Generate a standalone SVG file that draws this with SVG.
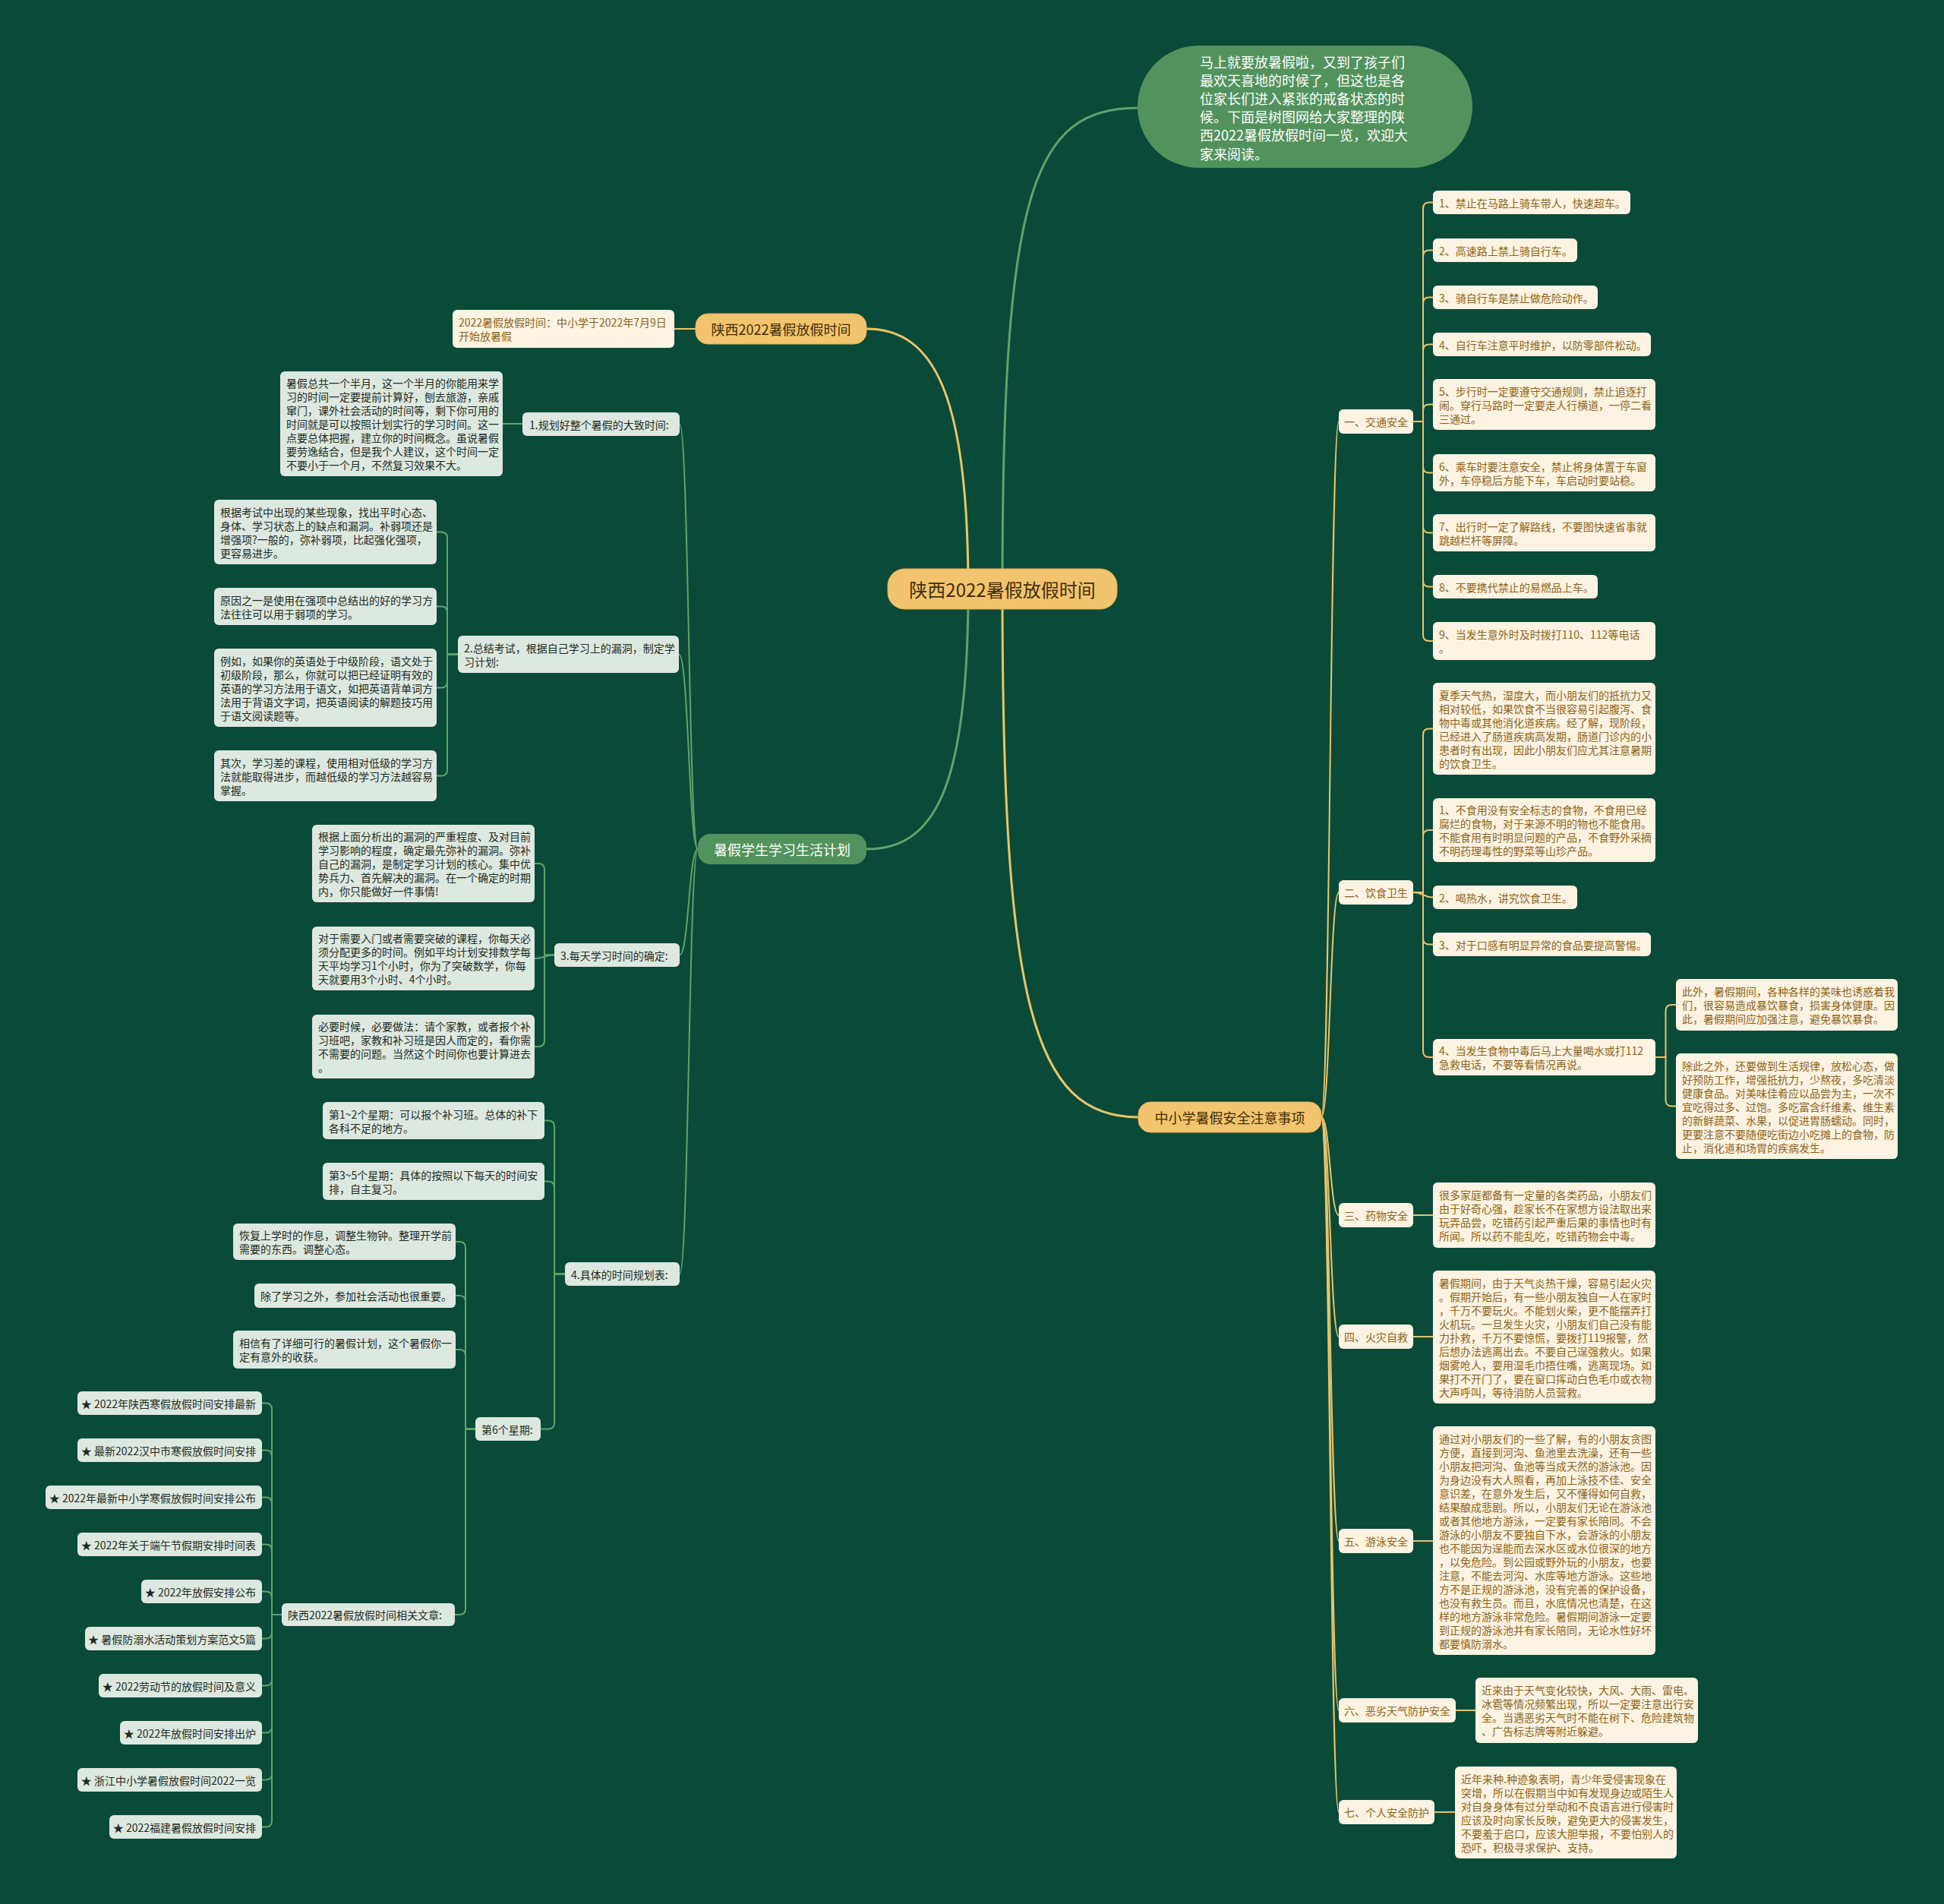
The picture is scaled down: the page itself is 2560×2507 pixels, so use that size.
<svg xmlns="http://www.w3.org/2000/svg" width="2560" height="2507" viewBox="0 0 2560 2507">
<style>
text{font-family:"Noto Sans CJK SC","Liberation Sans",sans-serif;dominant-baseline:central}
.lb{fill:#dde8e0}.rb{fill:#fdf3e2}
.lt{fill:#1d2b22;font-size:14px}.rt{fill:#8b6318;font-size:14px}
.ob{fill:#f3c46e;stroke:#e6ad52;stroke-width:1}.gb{fill:#52925c}
.ot{fill:#3f2d0c;font-size:18px;text-anchor:middle}.gt{fill:#ffffff;font-size:18px;text-anchor:middle}
.cg{fill:none;stroke:#5ea56b;stroke-width:2}.cy{fill:none;stroke:#e8c56a;stroke-width:2}
.cg3{fill:none;stroke:#5ea56b;stroke-width:3}.cy3{fill:none;stroke:#e8c56a;stroke-width:3}
</style>
<rect width="2560" height="2507" fill="#0a4a39"/>
<g id="connectors">
<path class="cy3" d="M 1275 776 C 1275 520, 1230 433, 1141 433"/>
<path class="cg3" d="M 1275 776 C 1275 1040, 1230 1118, 1141 1118"/>
<path class="cg3" d="M 1320 776 C 1320 250, 1360 142, 1499 142"/>
<path class="cy3" d="M 1320 776 C 1320 1320, 1360 1471, 1499 1471"/>
<path class="cy" d="M 888 433 H 916"/>
<path class="cg" d="M 662 558 H 688"/>
<path class="cg" d="M 919 1118 C 907 1118, 907 558.5, 895 558.5"/>
<path class="cg" d="M 919 1118 C 907 1118, 907 861.5, 894 861.5"/>
<path class="cg" d="M 919 1118 C 907 1118, 907 1257.5, 895 1257.5"/>
<path class="cg" d="M 919 1118 C 907 1118, 907 1677.5, 895 1677.5"/>
<path class="cg" d="M 575 700.5 H 581 Q 589 700.5 589 708.5 V 861.5 H 603"/>
<path class="cg" d="M 575 798.5 H 581 Q 589 798.5 589 806.5 V 861.5 H 603"/>
<path class="cg" d="M 575 905.5 H 581 Q 589 905.5 589 897.5 V 861.5 H 603"/>
<path class="cg" d="M 575 1021.5 H 581 Q 589 1021.5 589 1013.5 V 861.5 H 603"/>
<path class="cg" d="M 704 1137 H 709 Q 717 1137 717 1145 V 1257.5 H 730"/>
<path class="cg" d="M 704 1262 C 717 1262, 717 1257.5, 730 1257.5"/>
<path class="cg" d="M 704 1378 H 709 Q 717 1378 717 1370 V 1257.5 H 730"/>
<path class="cg" d="M 717 1475.5 H 722 Q 730 1475.5 730 1483.5 V 1677.5 H 744"/>
<path class="cg" d="M 717 1555.5 H 722 Q 730 1555.5 730 1563.5 V 1677.5 H 744"/>
<path class="cg" d="M 712 1881.5 H 722 Q 730 1881.5 730 1873.5 V 1677.5 H 744"/>
<path class="cg" d="M 600 1635 H 605 Q 613 1635 613 1643 V 1881.5 H 626"/>
<path class="cg" d="M 600 1706 H 605 Q 613 1706 613 1714 V 1881.5 H 626"/>
<path class="cg" d="M 600 1777 H 605 Q 613 1777 613 1785 V 1881.5 H 626"/>
<path class="cg" d="M 599 2126 H 605 Q 613 2126 613 2118 V 1881.5 H 626"/>
<path class="cg" d="M 345 1847.5 H 350 Q 358 1847.5 358 1855.5 V 2126 H 371"/>
<path class="cg" d="M 345 1909.5 H 350 Q 358 1909.5 358 1917.5 V 2126 H 371"/>
<path class="cg" d="M 345 1971.5 H 350 Q 358 1971.5 358 1979.5 V 2126 H 371"/>
<path class="cg" d="M 345 2033.5 H 350 Q 358 2033.5 358 2041.5 V 2126 H 371"/>
<path class="cg" d="M 345 2095.5 H 350 Q 358 2095.5 358 2103.5 V 2126 H 371"/>
<path class="cg" d="M 345 2157.5 H 350 Q 358 2157.5 358 2149.5 V 2126 H 371"/>
<path class="cg" d="M 345 2219.5 H 350 Q 358 2219.5 358 2211.5 V 2126 H 371"/>
<path class="cg" d="M 345 2281.5 H 350 Q 358 2281.5 358 2273.5 V 2126 H 371"/>
<path class="cg" d="M 345 2343.5 H 350 Q 358 2343.5 358 2335.5 V 2126 H 371"/>
<path class="cg" d="M 345 2405.5 H 350 Q 358 2405.5 358 2397.5 V 2126 H 371"/>
<path class="cy" d="M 1740 1471 C 1751.5 1471, 1751.5 555, 1763 555"/>
<path class="cy" d="M 1740 1471 C 1751.5 1471, 1751.5 1175, 1763 1175"/>
<path class="cy" d="M 1740 1471 C 1751.5 1471, 1751.5 1600, 1763 1600"/>
<path class="cy" d="M 1740 1471 C 1751.5 1471, 1751.5 1760, 1763 1760"/>
<path class="cy" d="M 1740 1471 C 1751.5 1471, 1751.5 2029, 1763 2029"/>
<path class="cy" d="M 1740 1471 C 1751.5 1471, 1751.5 2252, 1763 2252"/>
<path class="cy" d="M 1740 1471 C 1751.5 1471, 1751.5 2386, 1763 2386"/>
<path class="cy" d="M 1887 266.5 H 1882 Q 1874 266.5 1874 274.5 V 555 H 1861"/>
<path class="cy" d="M 1887 329.5 H 1882 Q 1874 329.5 1874 337.5 V 555 H 1861"/>
<path class="cy" d="M 1887 391.5 H 1882 Q 1874 391.5 1874 399.5 V 555 H 1861"/>
<path class="cy" d="M 1887 453.5 H 1882 Q 1874 453.5 1874 461.5 V 555 H 1861"/>
<path class="cy" d="M 1887 532.5 H 1882 Q 1874 532.5 1874 540.5 V 555 H 1861"/>
<path class="cy" d="M 1887 622.5 H 1882 Q 1874 622.5 1874 614.5 V 555 H 1861"/>
<path class="cy" d="M 1887 701.5 H 1882 Q 1874 701.5 1874 693.5 V 555 H 1861"/>
<path class="cy" d="M 1887 772.5 H 1882 Q 1874 772.5 1874 764.5 V 555 H 1861"/>
<path class="cy" d="M 1887 844 H 1882 Q 1874 844 1874 836 V 555 H 1861"/>
<path class="cy" d="M 1887 959.5 H 1882 Q 1874 959.5 1874 967.5 V 1175 H 1861"/>
<path class="cy" d="M 1887 1093 H 1882 Q 1874 1093 1874 1101 V 1175 H 1861"/>
<path class="cy" d="M 1887 1181.5 C 1874 1181.5, 1874 1175, 1861 1175"/>
<path class="cy" d="M 1887 1243.5 H 1882 Q 1874 1243.5 1874 1235.5 V 1175 H 1861"/>
<path class="cy" d="M 1887 1392 H 1882 Q 1874 1392 1874 1384 V 1175 H 1861"/>
<path class="cy" d="M 2207 1323 H 2201.5 Q 2193.5 1323 2193.5 1331 V 1392 H 2180"/>
<path class="cy" d="M 2207 1456.5 H 2201.5 Q 2193.5 1456.5 2193.5 1448.5 V 1392 H 2180"/>
<path class="cy" d="M 1861 1600 H 1887"/>
<path class="cy" d="M 1861 1760 H 1887"/>
<path class="cy" d="M 1861 2029 H 1887"/>
<path class="cy" d="M 1917 2252 H 1943"/>
<path class="cy" d="M 1889 2386 H 1916"/>
</g>
<g id="root"><rect class="ob" x="1169" y="749" width="302" height="53" rx="22" stroke-width="2"/><text class="ot" x="1320" y="775.5" style="font-size:24px">陕西2022暑假放假时间</text></g>
<g id="intro"><rect x="1498" y="60" width="441" height="161" rx="80.5" fill="#52925c"/><text fill="#ffffff" style="font-size:18px"><tspan x="1580" y="80.5">马上就要放暑假啦，又到了孩子们</tspan><tspan x="1580" y="104.7">最欢天喜地的时候了，但这也是各</tspan><tspan x="1580" y="128.9">位家长们进入紧张的戒备状态的时</tspan><tspan x="1580" y="153.1">候。下面是树图网给大家整理的陕</tspan><tspan x="1580" y="177.3">西2022暑假放假时间一览，欢迎大</tspan><tspan x="1580" y="201.5">家来阅读。</tspan></text></g>
<g id="b-time"><rect class="ob" x="916" y="413" width="225" height="40" rx="16"/><text class="ot" x="1028.5" y="433">陕西2022暑假放假时间</text></g>
<g id="b-plan"><rect class="gb" x="919" y="1098" width="222" height="40" rx="16"/><text class="gt" x="1030" y="1118">暑假学生学习生活计划</text></g>
<g id="b-safe"><rect class="ob" x="1499" y="1451" width="241" height="40" rx="16"/><text class="ot" x="1619.5" y="1471">中小学暑假安全注意事项</text></g>
<g id="n-2022"><rect class="rb" x="596" y="408" width="292" height="50" rx="6"/><text class="rt"><tspan x="604" y="424">2022暑假放假时间：中小学于2022年7月9日</tspan><tspan x="604" y="442">开始放暑假</tspan></text></g>
<g id="n-p1"><rect class="lb" x="688" y="543" width="207" height="31" rx="6"/><text class="lt" x="697" y="558.5">1.规划好整个暑假的大致时间:</text></g>
<g id="n-p1a"><rect class="lb" x="369" y="489" width="293" height="138" rx="6"/><text class="lt"><tspan x="377" y="504">暑假总共一个半月，这一个半月的你能用来学</tspan><tspan x="377" y="522">习的时间一定要提前计算好，刨去旅游，亲戚</tspan><tspan x="377" y="540">窜门，课外社会活动的时间等，剩下你可用的</tspan><tspan x="377" y="558">时间就是可以按照计划实行的学习时间。这一</tspan><tspan x="377" y="576">点要总体把握，建立你的时间概念。虽说暑假</tspan><tspan x="377" y="594">要劳逸结合，但是我个人建议，这个时间一定</tspan><tspan x="377" y="612">不要小于一个月，不然复习效果不大。</tspan></text></g>
<g id="n-p2"><rect class="lb" x="603" y="837" width="291" height="49" rx="6"/><text class="lt"><tspan x="611" y="852.5">2.总结考试，根据自己学习上的漏洞，制定学</tspan><tspan x="611" y="870.5">习计划:</tspan></text></g>
<g id="n-p2a"><rect class="lb" x="282" y="658" width="293" height="85" rx="6"/><text class="lt"><tspan x="290" y="673.5">根据考试中出现的某些现象，找出平时心态、</tspan><tspan x="290" y="691.5">身体、学习状态上的缺点和漏洞。补弱项还是</tspan><tspan x="290" y="709.5">增强项?一般的，弥补弱项，比起强化强项，</tspan><tspan x="290" y="727.5">更容易进步。</tspan></text></g>
<g id="n-p2b"><rect class="lb" x="282" y="774" width="293" height="49" rx="6"/><text class="lt"><tspan x="290" y="789.5">原因之一是使用在强项中总结出的好的学习方</tspan><tspan x="290" y="807.5">法往往可以用于弱项的学习。</tspan></text></g>
<g id="n-p2c"><rect class="lb" x="282" y="854" width="293" height="103" rx="6"/><text class="lt"><tspan x="290" y="869.5">例如，如果你的英语处于中级阶段，语文处于</tspan><tspan x="290" y="887.5">初级阶段，那么，你就可以把已经证明有效的</tspan><tspan x="290" y="905.5">英语的学习方法用于语文，如把英语背单词方</tspan><tspan x="290" y="923.5">法用于背语文字词，把英语阅读的解题技巧用</tspan><tspan x="290" y="941.5">于语文阅读题等。</tspan></text></g>
<g id="n-p2d"><rect class="lb" x="282" y="988" width="293" height="67" rx="6"/><text class="lt"><tspan x="290" y="1003.5">其次，学习差的课程，使用相对低级的学习方</tspan><tspan x="290" y="1021.5">法就能取得进步，而越低级的学习方法越容易</tspan><tspan x="290" y="1039.5">掌握。</tspan></text></g>
<g id="n-p3"><rect class="lb" x="730" y="1242" width="165" height="31" rx="6"/><text class="lt" x="738" y="1257.5">3.每天学习时间的确定:</text></g>
<g id="n-p3a"><rect class="lb" x="411" y="1086" width="293" height="102" rx="6"/><text class="lt"><tspan x="419" y="1101">根据上面分析出的漏洞的严重程度、及对目前</tspan><tspan x="419" y="1119">学习影响的程度，确定最先弥补的漏洞。弥补</tspan><tspan x="419" y="1137">自己的漏洞，是制定学习计划的核心。集中优</tspan><tspan x="419" y="1155">势兵力、首先解决的漏洞。在一个确定的时期</tspan><tspan x="419" y="1173">内，你只能做好一件事情!</tspan></text></g>
<g id="n-p3b"><rect class="lb" x="411" y="1220" width="293" height="84" rx="6"/><text class="lt"><tspan x="419" y="1235">对于需要入门或者需要突破的课程，你每天必</tspan><tspan x="419" y="1253">须分配更多的时间。例如平均计划安排数学每</tspan><tspan x="419" y="1271">天平均学习1个小时，你为了突破数学，你每</tspan><tspan x="419" y="1289">天就要用3个小时、4个小时。</tspan></text></g>
<g id="n-p3c"><rect class="lb" x="411" y="1336" width="293" height="84" rx="6"/><text class="lt"><tspan x="419" y="1351">必要时候，必要做法：请个家教，或者报个补</tspan><tspan x="419" y="1369">习班吧，家教和补习班是因人而定的，看你需</tspan><tspan x="419" y="1387">不需要的问题。当然这个时间你也要计算进去</tspan><tspan x="419" y="1405">。</tspan></text></g>
<g id="n-p4"><rect class="lb" x="744" y="1662" width="151" height="31" rx="6"/><text class="lt" x="752" y="1677.5">4.具体的时间规划表:</text></g>
<g id="n-p4a"><rect class="lb" x="425" y="1451" width="292" height="49" rx="6"/><text class="lt"><tspan x="433" y="1466.5">第1~2个星期：可以报个补习班。总体的补下</tspan><tspan x="433" y="1484.5">各科不足的地方。</tspan></text></g>
<g id="n-p4b"><rect class="lb" x="425" y="1531" width="292" height="49" rx="6"/><text class="lt"><tspan x="433" y="1546.5">第3~5个星期：具体的按照以下每天的时间安</tspan><tspan x="433" y="1564.5">排，自主复习。</tspan></text></g>
<g id="n-w6"><rect class="lb" x="626" y="1866" width="86" height="31" rx="6"/><text class="lt" x="634" y="1881.5">第6个星期:</text></g>
<g id="n-w6a"><rect class="lb" x="307" y="1611" width="293" height="48" rx="6"/><text class="lt"><tspan x="315" y="1626">恢复上学时的作息，调整生物钟。整理开学前</tspan><tspan x="315" y="1644">需要的东西。调整心态。</tspan></text></g>
<g id="n-w6b"><rect class="lb" x="335" y="1690" width="265" height="32" rx="6"/><text class="lt" x="343" y="1706">除了学习之外，参加社会活动也很重要。</text></g>
<g id="n-w6c"><rect class="lb" x="307" y="1752" width="293" height="50" rx="6"/><text class="lt"><tspan x="315" y="1768">相信有了详细可行的暑假计划，这个暑假你一</tspan><tspan x="315" y="1786">定有意外的收获。</tspan></text></g>
<g id="n-rel"><rect class="lb" x="371" y="2111" width="228" height="30" rx="6"/><text class="lt" x="379" y="2126">陕西2022暑假放假时间相关文章:</text></g>
<g id="n-s1"><rect class="lb" x="102" y="1832" width="243" height="31" rx="6"/><text class="lt" x="337" y="1847.5" text-anchor="end">★ 2022年陕西寒假放假时间安排最新</text></g>
<g id="n-s2"><rect class="lb" x="102" y="1894" width="243" height="31" rx="6"/><text class="lt" x="337" y="1909.5" text-anchor="end">★ 最新2022汉中市寒假放假时间安排</text></g>
<g id="n-s3"><rect class="lb" x="60" y="1956" width="285" height="31" rx="6"/><text class="lt" x="337" y="1971.5" text-anchor="end">★ 2022年最新中小学寒假放假时间安排公布</text></g>
<g id="n-s4"><rect class="lb" x="102" y="2018" width="243" height="31" rx="6"/><text class="lt" x="337" y="2033.5" text-anchor="end">★ 2022年关于端午节假期安排时间表</text></g>
<g id="n-s5"><rect class="lb" x="186" y="2080" width="159" height="31" rx="6"/><text class="lt" x="337" y="2095.5" text-anchor="end">★ 2022年放假安排公布</text></g>
<g id="n-s6"><rect class="lb" x="112" y="2142" width="233" height="31" rx="6"/><text class="lt" x="337" y="2157.5" text-anchor="end">★ 暑假防溺水活动策划方案范文5篇</text></g>
<g id="n-s7"><rect class="lb" x="130" y="2204" width="215" height="31" rx="6"/><text class="lt" x="337" y="2219.5" text-anchor="end">★ 2022劳动节的放假时间及意义</text></g>
<g id="n-s8"><rect class="lb" x="158" y="2266" width="187" height="31" rx="6"/><text class="lt" x="337" y="2281.5" text-anchor="end">★ 2022年放假时间安排出炉</text></g>
<g id="n-s9"><rect class="lb" x="102" y="2328" width="243" height="31" rx="6"/><text class="lt" x="337" y="2343.5" text-anchor="end">★ 浙江中小学暑假放假时间2022一览</text></g>
<g id="n-s10"><rect class="lb" x="144" y="2390" width="201" height="31" rx="6"/><text class="lt" x="337" y="2405.5" text-anchor="end">★ 2022福建暑假放假时间安排</text></g>
<g id="n-s-1"><rect class="rb" x="1763" y="539" width="98" height="32" rx="6"/><text class="rt" x="1770" y="555">一、交通安全</text></g>
<g id="n-t1"><rect class="rb" x="1887" y="251" width="260" height="31" rx="6"/><text class="rt" x="1895" y="266.5">1、禁止在马路上骑车带人，快速超车。</text></g>
<g id="n-t2"><rect class="rb" x="1887" y="314" width="190" height="31" rx="6"/><text class="rt" x="1895" y="329.5">2、高速路上禁上骑自行车。</text></g>
<g id="n-t3"><rect class="rb" x="1887" y="376" width="217" height="31" rx="6"/><text class="rt" x="1895" y="391.5">3、骑自行车是禁止做危险动作。</text></g>
<g id="n-t4"><rect class="rb" x="1887" y="438" width="287" height="31" rx="6"/><text class="rt" x="1895" y="453.5">4、自行车注意平时维护，以防零部件松动。</text></g>
<g id="n-t5"><rect class="rb" x="1887" y="499" width="293" height="67" rx="6"/><text class="rt"><tspan x="1895" y="514.5">5、步行时一定要遵守交通规则，禁止追逐打</tspan><tspan x="1895" y="532.5">闹。穿行马路时一定要走人行横道，一停二看</tspan><tspan x="1895" y="550.5">三通过。</tspan></text></g>
<g id="n-t6"><rect class="rb" x="1887" y="598" width="293" height="49" rx="6"/><text class="rt"><tspan x="1895" y="613.5">6、乘车时要注意安全，禁止将身体置于车窗</tspan><tspan x="1895" y="631.5">外，车停稳后方能下车，车启动时要站稳。</tspan></text></g>
<g id="n-t7"><rect class="rb" x="1887" y="677" width="293" height="49" rx="6"/><text class="rt"><tspan x="1895" y="692.5">7、出行时一定了解路线，不要图快速省事就</tspan><tspan x="1895" y="710.5">跳越栏杆等屏障。</tspan></text></g>
<g id="n-t8"><rect class="rb" x="1887" y="757" width="217" height="31" rx="6"/><text class="rt" x="1895" y="772.5">8、不要携代禁止的易燃品上车。</text></g>
<g id="n-t9"><rect class="rb" x="1887" y="819" width="293" height="50" rx="6"/><text class="rt"><tspan x="1895" y="835">9、当发生意外时及时拨打110、112等电话</tspan><tspan x="1895" y="853">。</tspan></text></g>
<g id="n-s-2"><rect class="rb" x="1763" y="1159" width="98" height="32" rx="6"/><text class="rt" x="1770" y="1175">二、饮食卫生</text></g>
<g id="n-f0"><rect class="rb" x="1887" y="899" width="293" height="121" rx="6"/><text class="rt"><tspan x="1895" y="914.5">夏季天气热，湿度大，而小朋友们的抵抗力又</tspan><tspan x="1895" y="932.5">相对较低，如果饮食不当很容易引起腹泻、食</tspan><tspan x="1895" y="950.5">物中毒或其他消化道疾病。经了解，现阶段，</tspan><tspan x="1895" y="968.5">已经进入了肠道疾病高发期，肠道门诊内的小</tspan><tspan x="1895" y="986.5">患者时有出现，因此小朋友们应尤其注意暑期</tspan><tspan x="1895" y="1004.5">的饮食卫生。</tspan></text></g>
<g id="n-f1"><rect class="rb" x="1887" y="1051" width="293" height="84" rx="6"/><text class="rt"><tspan x="1895" y="1066">1、不食用没有安全标志的食物，不食用已经</tspan><tspan x="1895" y="1084">腐烂的食物，对于来源不明的物也不能食用。</tspan><tspan x="1895" y="1102">不能食用有时明显问题的产品，不食野外采摘</tspan><tspan x="1895" y="1120">不明药理毒性的野菜等山珍产品。</tspan></text></g>
<g id="n-f2"><rect class="rb" x="1887" y="1166" width="190" height="31" rx="6"/><text class="rt" x="1895" y="1181.5">2、喝热水，讲究饮食卫生。</text></g>
<g id="n-f3"><rect class="rb" x="1887" y="1228" width="287" height="31" rx="6"/><text class="rt" x="1895" y="1243.5">3、对于口感有明显异常的食品要提高警惕。</text></g>
<g id="n-f4"><rect class="rb" x="1887" y="1368" width="293" height="48" rx="6"/><text class="rt"><tspan x="1895" y="1383">4、当发生食物中毒后马上大量喝水或打112</tspan><tspan x="1895" y="1401">急救电话，不要等看情况再说。</tspan></text></g>
<g id="n-f4a"><rect class="rb" x="2207" y="1289" width="292" height="68" rx="6"/><text class="rt"><tspan x="2215" y="1305">此外，暑假期间，各种各样的美味也诱惑着我</tspan><tspan x="2215" y="1323">们，很容易造成暴饮暴食，损害身体健康。因</tspan><tspan x="2215" y="1341">此，暑假期间应加强注意，避免暴饮暴食。</tspan></text></g>
<g id="n-f4b"><rect class="rb" x="2207" y="1387" width="292" height="139" rx="6"/><text class="rt"><tspan x="2215" y="1402.5">除此之外，还要做到生活规律，放松心态，做</tspan><tspan x="2215" y="1420.5">好预防工作，增强抵抗力，少熬夜，多吃清淡</tspan><tspan x="2215" y="1438.5">健康食品。对美味佳肴应以品尝为主，一次不</tspan><tspan x="2215" y="1456.5">宜吃得过多、过饱。多吃富含纤维素、维生素</tspan><tspan x="2215" y="1474.5">的新鲜蔬菜、水果，以促进胃肠蠕动。同时，</tspan><tspan x="2215" y="1492.5">更要注意不要随便吃街边小吃摊上的食物，防</tspan><tspan x="2215" y="1510.5">止，消化道和场胃的疾病发生。</tspan></text></g>
<g id="n-s-3"><rect class="rb" x="1763" y="1584" width="98" height="32" rx="6"/><text class="rt" x="1770" y="1600">三、药物安全</text></g>
<g id="n-m1"><rect class="rb" x="1887" y="1557" width="293" height="86" rx="6"/><text class="rt"><tspan x="1895" y="1573">很多家庭都备有一定量的各类药品，小朋友们</tspan><tspan x="1895" y="1591">由于好奇心强，趁家长不在家想方设法取出来</tspan><tspan x="1895" y="1609">玩弄品尝，吃错药引起严重后果的事情也时有</tspan><tspan x="1895" y="1627">所闻。所以药不能乱吃，吃错药物会中毒。</tspan></text></g>
<g id="n-s-4"><rect class="rb" x="1763" y="1744" width="98" height="32" rx="6"/><text class="rt" x="1770" y="1760">四、火灾自救</text></g>
<g id="n-h1"><rect class="rb" x="1887" y="1673" width="293" height="175" rx="6"/><text class="rt"><tspan x="1895" y="1688.5">暑假期间，由于天气炎热干燥，容易引起火灾</tspan><tspan x="1895" y="1706.5">。假期开始后，有一些小朋友独自一人在家时</tspan><tspan x="1895" y="1724.5">，千万不要玩火。不能划火柴，更不能摆弄打</tspan><tspan x="1895" y="1742.5">火机玩。一旦发生火灾，小朋友们自己没有能</tspan><tspan x="1895" y="1760.5">力扑救，千万不要惊慌，要拨打119报警，然</tspan><tspan x="1895" y="1778.5">后想办法逃离出去。不要自己逞强救火。如果</tspan><tspan x="1895" y="1796.5">烟雾呛人，要用湿毛巾捂住嘴，逃离现场。如</tspan><tspan x="1895" y="1814.5">果打不开门了，要在窗口挥动白色毛巾或衣物</tspan><tspan x="1895" y="1832.5">大声呼叫，等待消防人员营救。</tspan></text></g>
<g id="n-s-5"><rect class="rb" x="1763" y="2013" width="98" height="32" rx="6"/><text class="rt" x="1770" y="2029">五、游泳安全</text></g>
<g id="n-w1"><rect class="rb" x="1887" y="1878" width="293" height="301" rx="6"/><text class="rt"><tspan x="1895" y="1893.5">通过对小朋友们的一些了解，有的小朋友贪图</tspan><tspan x="1895" y="1911.5">方便，直接到河沟、鱼池里去洗澡，还有一些</tspan><tspan x="1895" y="1929.5">小朋友把河沟、鱼池等当成天然的游泳池。因</tspan><tspan x="1895" y="1947.5">为身边没有大人照看，再加上泳技不佳、安全</tspan><tspan x="1895" y="1965.5">意识差，在意外发生后，又不懂得如何自救，</tspan><tspan x="1895" y="1983.5">结果酿成悲剧。所以，小朋友们无论在游泳池</tspan><tspan x="1895" y="2001.5">或者其他地方游泳，一定要有家长陪同。不会</tspan><tspan x="1895" y="2019.5">游泳的小朋友不要独自下水，会游泳的小朋友</tspan><tspan x="1895" y="2037.5">也不能因为逞能而去深水区或水位很深的地方</tspan><tspan x="1895" y="2055.5">，以免危险。到公园或野外玩的小朋友，也要</tspan><tspan x="1895" y="2073.5">注意，不能去河沟、水库等地方游泳。这些地</tspan><tspan x="1895" y="2091.5">方不是正规的游泳池，没有完善的保护设备，</tspan><tspan x="1895" y="2109.5">也没有救生员。而且，水底情况也清楚，在这</tspan><tspan x="1895" y="2127.5">样的地方游泳非常危险。暑假期间游泳一定要</tspan><tspan x="1895" y="2145.5">到正规的游泳池并有家长陪同，无论水性好坏</tspan><tspan x="1895" y="2163.5">都要慎防溺水。</tspan></text></g>
<g id="n-s-6"><rect class="rb" x="1763" y="2236" width="154" height="32" rx="6"/><text class="rt" x="1770" y="2252">六、恶劣天气防护安全</text></g>
<g id="n-e1"><rect class="rb" x="1943" y="2209" width="293" height="86" rx="6"/><text class="rt"><tspan x="1951" y="2225">近来由于天气变化较快，大风、大雨、雷电、</tspan><tspan x="1951" y="2243">冰雹等情况频繁出现，所以一定要注意出行安</tspan><tspan x="1951" y="2261">全。当遇恶劣天气时不能在树下、危险建筑物</tspan><tspan x="1951" y="2279">、广告标志牌等附近躲避。</tspan></text></g>
<g id="n-s-7"><rect class="rb" x="1763" y="2370" width="126" height="32" rx="6"/><text class="rt" x="1770" y="2386">七、个人安全防护</text></g>
<g id="n-g1"><rect class="rb" x="1916" y="2326" width="292" height="121" rx="6"/><text class="rt"><tspan x="1924" y="2341.5">近年来种.种迹象表明，青少年受侵害现象在</tspan><tspan x="1924" y="2359.5">突增，所以在假期当中如有发现身边或陌生人</tspan><tspan x="1924" y="2377.5">对自身身体有过分举动和不良语言进行侵害时</tspan><tspan x="1924" y="2395.5">应该及时向家长反映，避免更大的侵害发生，</tspan><tspan x="1924" y="2413.5">不要羞于启口，应该大胆举报，不要怕别人的</tspan><tspan x="1924" y="2431.5">恐吓，积极寻求保护、支持。</tspan></text></g>
</svg>
